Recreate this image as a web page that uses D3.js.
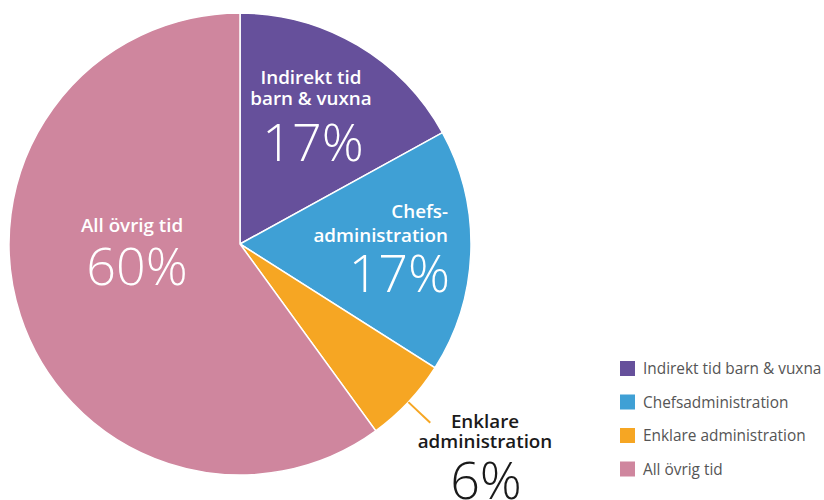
<!DOCTYPE html>
<html>
<head>
<meta charset="utf-8">
<script src="https://cdn.jsdelivr.net/npm/d3@7"></script>
<style>
  html, body { margin: 0; padding: 0; background: #fff; }
  svg { display: block; font-family: "Open Sans", sans-serif; }
</style>
</head>
<body>
<svg id="chart" width="824" height="500"></svg>
<script>
// Time distribution, percent
const categories = ["Indirekt tid barn & vuxna", "Chefsadministration", "Enklare administration", "All övrig tid"];
const values = [17, 17, 6, 60];
const colors = ["#66509b", "#3fa0d5", "#f6a623", "#cf869e"];
const sliceLabels = [["Indirekt tid", "barn & vuxna"], ["Chefs-", "administration"], ["Enklare", "administration"], ["All övrig tid"]];

const svg = d3.select("#chart");
const cx = 240, cy = 244, radius = 231;

const pie = d3.pie().sort(null).value(d => d)(values);
const arc = d3.arc().innerRadius(0).outerRadius(radius);

const g = svg.append("g").attr("transform", `translate(${cx},${cy})`);

g.selectAll("path.slice")
  .data(pie)
  .join("path")
  .attr("class", "slice")
  .attr("d", arc)
  .attr("fill", (d, i) => colors[i])
  .attr("stroke", "#fff")
  .attr("stroke-width", 1.5);

// Label placement per slice (offsets relative to pie centre)
const labelPos = [
  { x: 71, y: -160, lh: 20.5, anchor: "middle", px: 73, pctDy: 56 },
  { x: 208, y: -26, lh: 23.5, anchor: "end", px: 210, pctDy: 50 },
  { x: 245, y: 183.5, lh: 20.5, anchor: "middle", px: 246, pctDy: 51 },
  { x: -108, y: -12, lh: 0, anchor: "middle", px: -103, pctDy: 53 }
];

pie.forEach((d, i) => {
  const p = labelPos[i];
  const fill = i === 2 ? "#1a1a1a" : "#fff";
  const t = g.append("text")
    .attr("x", p.x).attr("y", p.y)
    .attr("text-anchor", p.anchor)
    .attr("fill", fill)
    .attr("font-size", 18.8)
    .attr("font-weight", 600);
  sliceLabels[i].forEach((line, k) => {
    t.append("tspan").attr("x", p.x).attr("dy", k === 0 ? 0 : p.lh).text(line);
  });
  const lastY = p.y + p.lh * (sliceLabels[i].length - 1);
  g.append("text")
    .attr("x", p.px)
    .attr("y", lastY + p.pctDy)
    .attr("text-anchor", p.anchor)
    .attr("fill", fill)
    .attr("font-size", 52)
    .attr("font-weight", 300)
    .text(values[i] + "%");
});

// Leader line for the small slice
const small = pie[2];
const mid = (small.startAngle + small.endAngle) / 2;
const r0 = radius, r1 = radius + 30;
g.append("line")
  .attr("x1", Math.sin(mid) * r0).attr("y1", -Math.cos(mid) * r0)
  .attr("x2", Math.sin(mid) * r1).attr("y2", -Math.cos(mid) * r1)
  .attr("stroke", colors[2])
  .attr("stroke-width", 2);

// Legend
const legend = svg.append("g").attr("transform", "translate(620,361)");
const rows = legend.selectAll("g")
  .data(categories)
  .join("g")
  .attr("transform", (d, i) => `translate(0,${i * 33.5})`);
rows.append("rect")
  .attr("width", 15).attr("height", 15)
  .attr("fill", (d, i) => colors[i]);
rows.append("text")
  .attr("x", 23).attr("y", 13)
  .attr("font-size", 15.4)
  .attr("fill", "#555")
  .text(d => d);
</script>
</body>
</html>
